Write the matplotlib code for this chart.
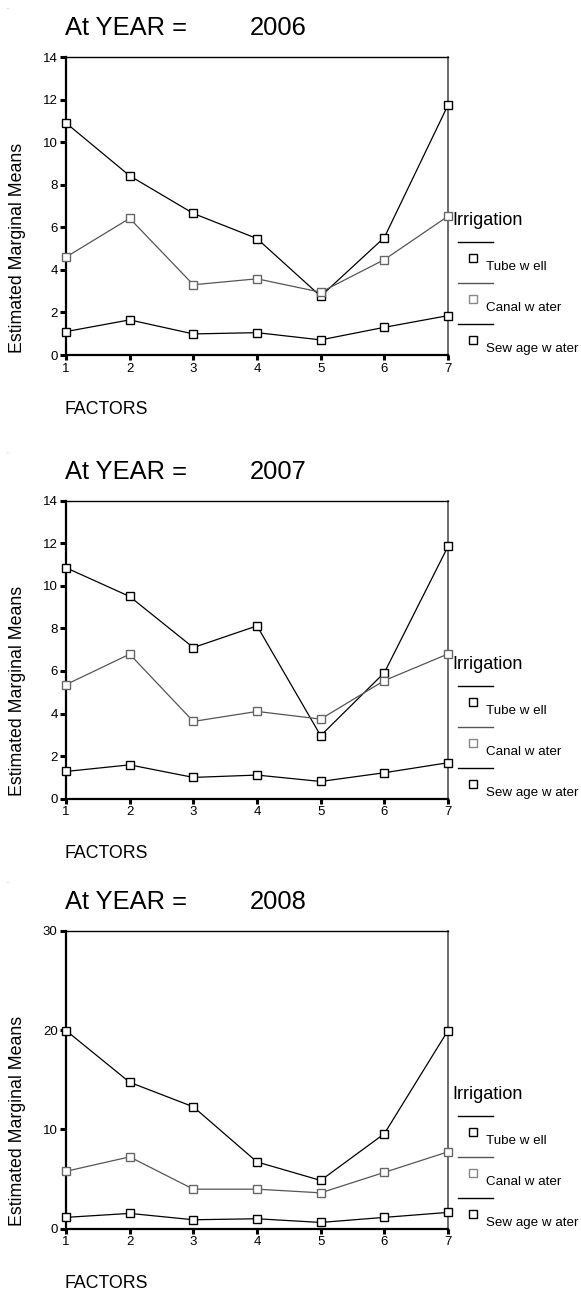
import matplotlib
matplotlib.use("Agg")
import matplotlib.pyplot as plt

plt.rcParams['font.family'] = ['Liberation Sans', 'DejaVu Sans']

# --- data ---
factors = [1, 2, 3, 4, 5, 6, 7]
years = ['2006', '2007', '2008']
series_names = ['Tube w ell', 'Canal w ater', 'Sew age w ater']

tube_well_2006 = [10.90, 8.42, 6.65, 5.47, 2.76, 5.52, 11.74]
canal_water_2006 = [4.60, 6.42, 3.30, 3.58, 2.95, 4.48, 6.52]
sewage_water_2006 = [1.10, 1.65, 0.99, 1.05, 0.71, 1.30, 1.85]

tube_well_2007 = [10.85, 9.50, 7.10, 8.12, 2.96, 5.92, 11.85]
canal_water_2007 = [5.36, 6.79, 3.63, 4.10, 3.74, 5.55, 6.80]
sewage_water_2007 = [1.28, 1.59, 1.00, 1.11, 0.81, 1.22, 1.69]

tube_well_2008 = [19.95, 14.74, 12.27, 6.72, 4.86, 9.56, 19.95]
canal_water_2008 = [5.78, 7.23, 3.98, 3.98, 3.61, 5.67, 7.74]
sewage_water_2008 = [1.14, 1.54, 0.90, 1.00, 0.63, 1.14, 1.64]

yticks_small = [0, 2, 4, 6, 8, 10, 12, 14]
yticks_big = [0, 10, 20, 30]

panels = [
    (years[0], [tube_well_2006, canal_water_2006, sewage_water_2006], yticks_small),
    (years[1], [tube_well_2007, canal_water_2007, sewage_water_2007], yticks_small),
    (years[2], [tube_well_2008, canal_water_2008, sewage_water_2008], yticks_big),
]

line_colors = ['black', '#555555', 'black']
marker_colors = ['black', '#666666', 'black']
legend_marker_colors = ['black', '#888888', 'black']

W, H = 581, 1292
fig = plt.figure(figsize=(W / 100, H / 100), dpi=100)

ax_left, ax_right = 66, 448
ax_tops = [57, 500.7, 930.7]
ax_h = 298

def fx(px):
    return px / W

def fy(py):
    return 1 - py / H

for (year, vals, yt), top in zip(panels, ax_tops):
    ax = fig.add_axes([fx(ax_left), fy(top + ax_h), (ax_right - ax_left) / W, ax_h / H])
    for v, lc, mc in zip(vals, line_colors, marker_colors):
        ax.plot(factors, v, color=lc, lw=0.9, marker='s', ms=6, mfc='white',
                mec=mc, mew=1.0, clip_on=False, zorder=3)
    ax.set_xlim(1, 7)
    ax.set_ylim(yt[0], yt[-1])
    ax.set_xticks(factors)
    ax.set_yticks(yt)
    ax.tick_params(axis='y', direction='out', length=4, width=2.2, color='black',
                   labelsize=9.5, pad=2)
    ax.tick_params(axis='x', direction='out', length=3.5, width=2.2, color='black',
                   labelsize=9.5, pad=2)
    ax.spines['left'].set_linewidth(1.6)
    ax.spines['bottom'].set_linewidth(1.6)
    ax.spines['top'].set_linewidth(1.0)
    ax.spines['right'].set_linewidth(1.1)
    ax.spines['right'].set_color('#444444')

    # title
    fig.text(fx(65), fy(top - 22), 'At YEAR =', fontsize=18.4, va='baseline', ha='left')
    fig.text(fx(250), fy(top - 22), year, fontsize=18.4, va='baseline', ha='left')
    fig.text(fx(6), fy(top - 48), '.', fontsize=5, color='#777777', ha='left')

    # axis labels
    fig.text(fx(18), fy(top + 190.5), 'Estimated Marginal Means', rotation=90,
             fontsize=12.8, ha='center', va='center')
    fig.text(fx(65), fy(top + ax_h + 59), 'FACTORS', fontsize=12.8, ha='left',
             va='baseline')

    # legend drawn by hand
    fig.text(fx(452), fy(top + 163.5), 'Irrigation', fontsize=13, ha='left',
             va='center')
    for i, (name, lc, mc) in enumerate(zip(series_names, line_colors,
                                           legend_marker_colors)):
        off = top + 185 + i * 41
        fig.add_artist(plt.Line2D([fx(458), fx(493)], [fy(off), fy(off)],
                                  color=lc, lw=1.0))
        fig.add_artist(plt.Line2D([fx(473)], [fy(off + 16)], marker='s', ms=5.5,
                                  mfc='white', mec=mc, mew=1.0, lw=0))
        fig.text(fx(486), fy(off + 25), name, fontsize=9.6, ha='left', va='center')

fig.savefig('out.png', dpi=100)
